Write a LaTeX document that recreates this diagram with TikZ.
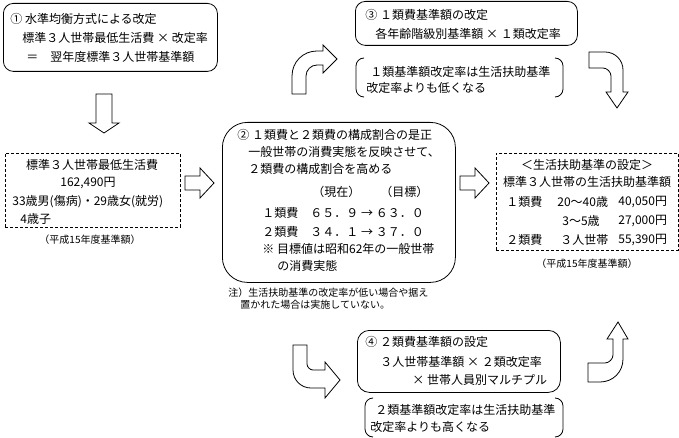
\documentclass[tikz,border=0pt]{standalone}
\usepackage{fontspec}
\setmainfont{Noto Sans CJK JP}
\definecolor{kline}{RGB}{0,0,0}
\definecolor{kpaper}{RGB}{255,255,255}
\tikzset{
  txt/.style={anchor=west,inner sep=0pt,font=\fontsize{12}{14}\selectfont},
  ctxt/.style={txt,anchor=center},
  note/.style={anchor=west,inner sep=0pt,font=\fontsize{10}{12}\selectfont},
  cnote/.style={note,anchor=center},
  rbox/.style={draw=kline,rounded corners=#1,anchor=north west,inner sep=0pt},
  dbox/.style={draw=kline,dash pattern=on 3pt off 2pt,anchor=north west,inner sep=0pt},
  barrow/.style={draw=kline,fill=kpaper,line join=miter}
}

\begin{document}
\begin{tikzpicture}[x=1pt,y=-1pt,line width=0.8pt]
  \path[fill=kpaper,use as bounding box] (0,0) rectangle (679,438);

  \node[rbox=10pt,minimum width=214pt,minimum height=68pt] (suijun) at (3,3) {};
  \node[txt] (suijun1) at (10,19) {① 水準均衡方式による改定};
  \node[txt] (suijun2) at (22,38) {標準３人世帯最低生活費 × 改定率};
  \node[txt] (suijun3) at (26,57) {＝　翌年度標準３人世帯基準額};

  \node[rbox=10pt,minimum width=222pt,minimum height=44pt] (rui1) at (355,1) {};
  \node[txt] (rui1a) at (365,15) {③ １類費基準額の改定};
  \node[txt] (rui1b) at (375,34) {各年齢階級別基準額 × １類改定率};

  \coordinate (kak1nw) at (356,58);
  \coordinate (kak1se) at (563,97);
  \draw[rounded corners=8pt] (364,58) -- (kak1nw) -- (356,97) -- (364,97);
  \draw[rounded corners=8pt] (555,58) -- (563,58) -- (kak1se) -- (555,97);
  \node[txt] (kak1a) at (370,72) {１類基準額改定率は生活扶助基準};
  \node[txt] (kak1b) at (366,88) {改定率よりも低くなる};

  \node[dbox,minimum width=175pt,minimum height=74pt] (saitei) at (5,153) {};
  \node[ctxt] (saitei1) at (92,165) {標準３人世帯最低生活費};
  \node[ctxt] (saitei2) at (88,183) {162,490円};
  \node[txt] (saitei3) at (12,202) {33歳男(傷病)・29歳女(就労)};
  \node[txt] (saitei4) at (20,219) {4歳子};
  \node[cnote] (saiteic) at (90,240) {（平成15年度基準額）};

  \node[rbox=25pt,minimum width=233pt,minimum height=160pt] (zesei) at (222,122) {};
  \node[txt] (zesei1) at (237,135) {② １類費と２類費の構成割合の是正};
  \node[txt] (zesei2) at (248,152) {一般世帯の消費実態を反映させて、};
  \node[txt] (zesei3) at (248,169) {２類費の構成割合を高める};
  \node[txt] (genzai) at (312,192) {（現在）};
  \node[txt] (mokuhyo) at (380,192) {（目標）};
  \node[txt] (zesei4) at (262,213) {１類費　６５．９ → ６３．０};
  \node[txt] (zesei5) at (262,232) {２類費　３４．１ → ３７．０};
  \node[txt] (zesei6) at (262,249) {※ 目標値は昭和62年の一般世帯};
  \node[txt] (zesei7) at (277,266) {の消費実態};
  \node[note] (chu1) at (228,293) {注）生活扶助基準の改定率が低い場合や据え};
  \node[note] (chu2) at (240,305) {置かれた場合は実施していない。};

  \node[dbox,minimum width=182pt,minimum height=97pt] (settei) at (496,153) {};
  \node[ctxt] (settei1) at (587,165) {＜生活扶助基準の設定＞};
  \node[ctxt] (settei2) at (587,182) {標準３人世帯の生活扶助基準額};
  \node[txt] (r1a) at (506,202) {１類費};
  \node[txt] (r1b) at (557,202) {20～40歳};
  \node[txt] (r1c) at (618,202) {40,050円};
  \node[txt] (r2b) at (562,221) {3～5歳};
  \node[txt] (r2c) at (618,221) {27,000円};
  \node[txt] (r3a) at (506,240) {２類費};
  \node[txt] (r3b) at (560,240) {３人世帯};
  \node[txt] (r3c) at (618,240) {55,390円};
  \node[cnote] (setteic) at (587,264) {（平成15年度基準額）};

  \node[rbox=12pt,minimum width=203pt,minimum height=62pt] (rui2) at (357,330) {};
  \node[txt] (rui2a) at (365,342) {④ ２類費基準額の設定};
  \node[txt] (rui2b) at (380,362) {３人世帯基準額 × ２類改定率};
  \node[txt] (rui2c) at (412,380) {× 世帯人員別マルチプル};

  \coordinate (kak2nw) at (365,398);
  \coordinate (kak2se) at (563,437);
  \draw[rounded corners=8pt] (373,398) -- (kak2nw) -- (365,437) -- (373,437);
  \draw[rounded corners=8pt] (555,398) -- (563,398) -- (kak2se) -- (555,437);
  \node[txt] (kak2a) at (375,410) {２類基準額改定率は生活扶助基準};
  \node[txt] (kak2b) at (370,427) {改定率よりも高くなる};

  \draw[barrow] (96,94) -- (112,94) -- (112,123) -- (119,123) -- (104,133) -- (89,123) -- (96,123) -- cycle;
  \draw[barrow] (185,176) -- (200,176) -- (200,168) -- (214,183) -- (200,198) -- (200,190) -- (185,190) -- cycle;
  \draw[barrow] (460,176) -- (475,176) -- (475,168) -- (489,183) -- (475,198) -- (475,190) -- (460,190) -- cycle;

  \draw[barrow] (292,94) -- (292,76) .. controls (292,62) and (303,51) .. (317,51) -- (323,51) -- (323,45)
    -- (337,59) -- (323,73) -- (323,65) -- (317,65) .. controls (311,65) and (306,70) .. (306,76) -- (306,94) -- cycle;
  \draw[barrow] (589,52) -- (605,52) .. controls (615,52) and (623,60) .. (623,70) -- (623,92) -- (628,92)
    -- (617,108) -- (606,92) -- (611,92) -- (611,76) .. controls (611,72) and (607,68) .. (603,68) -- (589,68) -- cycle;
  \draw[barrow] (293,345) -- (293,370) .. controls (293,380) and (301,388) .. (311,388) -- (325,388) -- (325,398)
    -- (340,380) -- (325,362) -- (325,370) -- (313,370) .. controls (310,370) and (307,367) .. (307,364) -- (307,345) -- cycle;
  \draw[barrow] (588,382) -- (600,382) .. controls (613,382) and (623,372) .. (623,359) -- (623,339) -- (628,339)
    -- (618,322) -- (607,339) -- (613,339) -- (613,355) .. controls (613,359) and (609,363) .. (605,363) -- (588,363) -- cycle;
\end{tikzpicture}
\end{document}
